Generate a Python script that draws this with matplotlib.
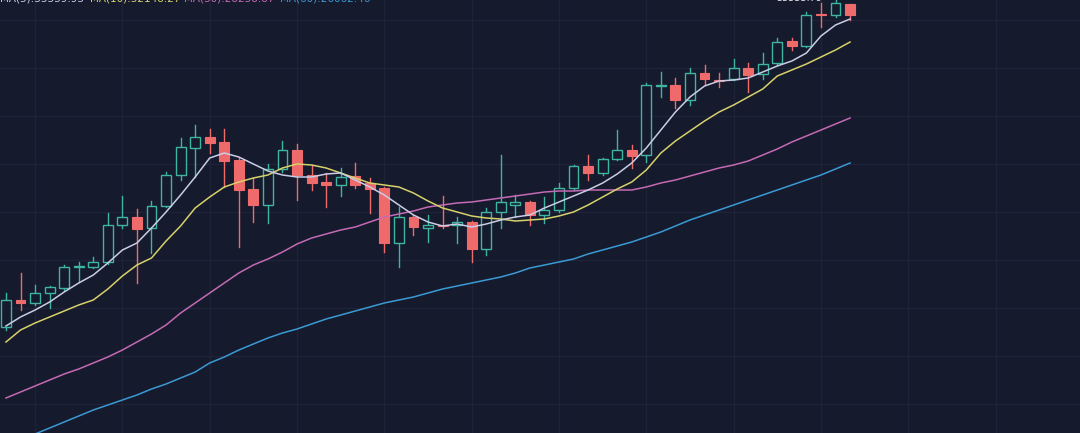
import matplotlib
matplotlib.use("Agg")
import matplotlib.pyplot as plt
from matplotlib.patches import Rectangle

# candle data (open, high, low, close), one per day
opens = [17850, 19200, 19050, 19550, 19800, 20850, 20850, 21100, 22950, 23350,
         22800, 23900, 25450, 26800, 27350, 27100, 26200, 24750, 23950, 25750,
         26700, 25450, 25100, 24950, 25400, 25050, 24800, 22050, 23350, 22800,
         22950, 22950, 23100, 21750, 23600, 23950, 24100, 23450, 23700, 24800,
         25900, 25550, 26250, 26700, 26450, 29900, 29950, 29200, 30550, 30200,
         30250, 30800, 30500, 31050, 32150, 31900, 33500, 33450, 34000]
highs = [19550, 20550, 19950, 19900, 20950, 21100, 21350, 23550, 24400, 23750,
         24150, 25600, 27300, 27950, 27750, 27750, 26300, 25300, 26000, 27150,
         27000, 25950, 25550, 25800, 26050, 25300, 24850, 23850, 23450, 23450,
         24400, 23350, 23150, 23800, 26450, 24450, 24150, 24350, 25050, 25950,
         26450, 26300, 27700, 26950, 30050, 30600, 30300, 30800, 30950, 30550,
         31250, 31050, 31550, 32300, 32300, 33600, 34050, 34300, 34000]
lows = [17700, 18700, 18950, 18800, 19700, 20100, 20800, 21000, 22800, 20050,
        21550, 23850, 25200, 25350, 26550, 24850, 21850, 23100, 23050, 25600,
        24200, 24700, 23850, 24400, 24800, 23550, 21600, 20850, 22450, 22100,
        22800, 22050, 21100, 21450, 22800, 23350, 22950, 23050, 23600, 24700,
        25200, 25450, 26200, 25800, 26100, 29350, 28800, 28950, 29950, 29850,
        30200, 29600, 30250, 30950, 31700, 31850, 32850, 33350, 33200]
closes = [19200, 19050, 19550, 19850, 20850, 20900, 21100, 22950, 23350, 22750,
          23900, 25450, 26850, 27350, 27050, 26150, 24700, 23950, 25750, 26700,
          25450, 25050, 24950, 25350, 24950, 24750, 22050, 23350, 22850, 22950,
          22900, 23100, 21750, 23600, 24100, 24100, 23450, 23700, 24800, 25900,
          25550, 26250, 26700, 26400, 29950, 29950, 29200, 30550, 30250, 30150,
          30800, 30450, 31000, 32100, 31900, 33450, 33450, 34050, 33450]

# moving averages
ma5 = [17900, 18350, 18700, 19100, 19600, 20050, 20450, 21050, 21700, 22050,
       22800, 23600, 24450, 25350, 26300, 26550, 26350, 26000, 25650, 25450,
       25350, 25350, 25500, 25550, 25200, 24850, 24450, 23950, 23450, 23100,
       22900, 23000, 22850, 23000, 23200, 23350, 23450, 23800, 24100, 24400,
       24700, 25050, 25500, 26050, 26800, 27700, 28600, 29350, 29900, 30150,
       30200, 30300, 30600, 30900, 31150, 31550, 32400, 32950, 33250]
ma10 = [17100, 17700, 18050, 18350, 18650, 18950, 19200, 19750, 20400, 20950,
        21300, 22150, 22900, 23800, 24350, 24850, 25100, 25300, 25450, 25800,
        26000, 25950, 25800, 25550, 25300, 25050, 24950, 24850, 24550, 24150,
        23800, 23600, 23400, 23300, 23250, 23150, 23200, 23250, 23400, 23600,
        23950, 24350, 24750, 25100, 25700, 26550, 27150, 27650, 28150, 28600,
        28950, 29350, 29750, 30400, 30700, 31000, 31350, 31700, 32100]
ma30 = [14300, 14600, 14900, 15200, 15500, 15750, 16050, 16350, 16700, 17100,
        17500, 17950, 18550, 19050, 19550, 20050, 20550, 20950, 21250, 21600,
        22000, 22300, 22500, 22700, 22850, 23100, 23350, 23500, 23650, 23850,
        23950, 24050, 24100, 24200, 24300, 24400, 24500, 24600, 24650, 24650,
        24700, 24700, 24700, 24700, 24850, 25050, 25200, 25400, 25600, 25800,
        25950, 26150, 26450, 26750, 27100, 27400, 27700, 28000, 28300]
ma60 = [11950, 12250, 12500, 12800, 13100, 13400, 13700, 13950, 14200, 14450,
        14750, 15000, 15300, 15600, 16050, 16350, 16700, 17000, 17300, 17550,
        17750, 18000, 18250, 18450, 18650, 18850, 19050, 19200, 19350, 19550,
        19750, 19900, 20050, 20200, 20350, 20550, 20800, 20950, 21100, 21250,
        21500, 21700, 21900, 22100, 22350, 22600, 22900, 23200, 23450, 23700,
        23950, 24200, 24450, 24700, 24950, 25200, 25450, 25750, 26050]

ma_labels = ["MA(5):33339.93", "MA(10):32148.27", "MA(30):28258.87", "MA(60):26062.46"]

bg = "#161a2d"
up_col = "#3db5a0"
down_col = "#ef6a6b"
ma_cols = ["#c9cde6", "#d6d16a", "#c46ab4", "#3a9ad4"]

fig = plt.figure(figsize=(10.8, 4.33), dpi=100, facecolor=bg)
ax = fig.add_axes([0, 0, 1, 1])
ax.set_facecolor(bg)

# faint grid
ax.set_xticks(range(2, 80, 6))
ax.set_yticks(range(14000, 36000, 2400))
ax.grid(True, color="#1f2338", linewidth=1)
ax.tick_params(length=0, labelbottom=False, labelleft=False)
for s in ax.spines.values():
    s.set_visible(False)

w = 0.68
for i in range(len(opens)):
    o, h, l, c = opens[i], highs[i], lows[i], closes[i]
    top, bot = max(o, c), min(o, c)
    if c >= o:
        ax.plot([i, i], [top, h], color=up_col, lw=1, zorder=3)
        ax.plot([i, i], [l, bot], color=up_col, lw=1, zorder=3)
        ax.add_patch(Rectangle((i - w / 2, bot), w, max(top - bot, 30),
                               facecolor=bg, edgecolor=up_col, lw=1, zorder=4))
    else:
        ax.plot([i, i], [l, h], color=down_col, lw=1, zorder=3)
        ax.add_patch(Rectangle((i - w / 2, bot), w, max(top - bot, 60),
                               facecolor=down_col, edgecolor=down_col, lw=0.8, zorder=4))

xs = list(range(len(opens)))
for ma, col in zip([ma60, ma30, ma10, ma5], ma_cols[::-1]):
    ax.plot(xs, ma, color=col, lw=1.1, zorder=5)

ax.set_xlim(-0.41, 73.8)
ax.set_ylim(12550, 34200)

# MA legend at the very top, cut off by the edge as in the screenshot
xpos = [0.0, 0.083, 0.170, 0.259]
for lab, col, xp in zip(ma_labels, ma_cols, xpos):
    fig.text(xp, 1.003, lab, color=col, fontsize=7.5,
             ha="left", va="center")
fig.text(0.74, 1.004, "33333.79", color="#e8e8f0", fontsize=7,
         ha="center", va="center")

fig.savefig("out.png", dpi=100, facecolor=bg)
